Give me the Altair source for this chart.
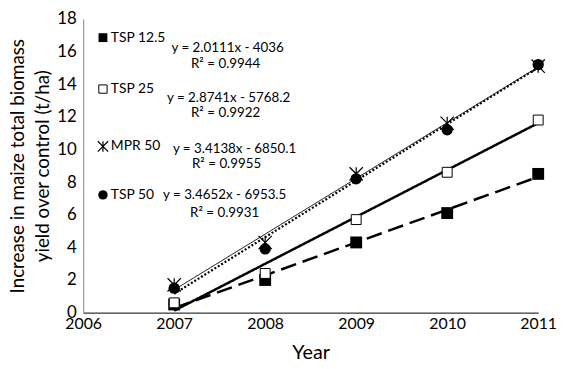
import altair as alt
import pandas as pd

# ---- data ----
years = [2007, 2008, 2009, 2010, 2011]
series = ["TSP 12.5", "TSP 25", "MPR 50", "TSP 50"]
tsp125 = [0.5, 2.0, 4.3, 6.1, 8.5]
tsp25 = [0.6, 2.4, 5.7, 8.6, 11.8]
mpr50 = [1.7, 4.3, 8.5, 11.6, 15.1]
tsp50 = [1.5, 3.9, 8.2, 11.2, 15.2]
slopes = [2.0111, 2.8741, 3.4138, 3.4652]
intercepts = [-4036, -5768.2, -6850.1, -6953.5]
eq_labels = ["y = 2.0111x - 4036", "y = 2.8741x - 5768.2",
             "y = 3.4138x - 6850.1", "y = 3.4652x - 6953.5"]
r2_labels = ["R² = 0.9944", "R² = 0.9922", "R² = 0.9955", "R² = 0.9931"]
x_ticks = [2006, 2007, 2008, 2009, 2010, 2011]
y_ticks = [0, 2, 4, 6, 8, 10, 12, 14, 16, 18]

values = [tsp125, tsp25, mpr50, tsp50]

FONT = "Lato"
W, H = 460, 297

xs = alt.Scale(domain=[2006, 2011], nice=False, zero=False)
ys = alt.Scale(domain=[0, 18], nice=False)

x_axis = alt.Axis(values=x_ticks, format="d", grid=False, ticks=False, domainColor="black",
                  labelFontSize=16, labelFont=FONT, labelColor="black", labelPadding=3,
                  title="Year", titleFont=FONT, titleFontSize=20, titleFontWeight="normal",
                  titleColor="black", titlePadding=11, labelFlush=False)
y_axis = alt.Axis(values=y_ticks, grid=False, ticks=False, domainColor="#888888",
                  labelFontSize=17, labelFont=FONT, labelColor="black", labelPadding=7,
                  title=["Increase in maize total biomass", "yield over control (t/ha)"],
                  titleFont=FONT, titleFontSize=19, titleFontWeight="normal",
                  titleColor="black", titlePadding=4, titleLineHeight=26)

# styles
dashes = [[16, 7], [1, 0], [1, 0], [2, 2]]
widths = [2.5, 2.5, 1.0, 2.2]
ASTER = "M-1,-1L1,1M1,-1L-1,1M0,-1L0,1"
marker_specs = [
    dict(shape="square", filled=True, color="black", size=144),
    dict(shape="square", filled=True, fill="white", stroke="black", strokeWidth=1, size=100),
    dict(shape=ASTER, filled=False, stroke="black", strokeWidth=1.2, size=180),
    dict(shape="circle", filled=True, color="black", size=130),
]
legend_marker_sizes = [80, 70, 110, 90]

# legend layout (pixels within plot area)
row_y = [19, 71, 129, 178]
eq_y = [30, 80, 132, 178]
r2_y = [46, 95, 147, 196]
eq_x = [146, 147, 153, 143]
r2_x = [144, 144, 145, 143]

layers = []
# trend lines
for i, name in enumerate(series):
    tdf = pd.DataFrame({"Year": [years[0], years[-1]],
                        "v": [slopes[i] * years[0] + intercepts[i],
                              slopes[i] * years[-1] + intercepts[i]]})
    line = alt.Chart(tdf).mark_line(color="black", strokeWidth=widths[i],
                                    strokeDash=dashes[i], clip=False).encode(
        x=alt.X("Year:Q", scale=xs, axis=x_axis),
        y=alt.Y("v:Q", scale=ys, axis=y_axis),
    )
    layers.append(line)

# points
for i, name in enumerate(series):
    pdf = pd.DataFrame({"Year": years, "v": values[i]})
    pts = alt.Chart(pdf).mark_point(opacity=1, **marker_specs[i]).encode(
        x=alt.X("Year:Q", scale=xs, axis=x_axis),
        y=alt.Y("v:Q", scale=ys, axis=y_axis),
    )
    layers.append(pts)

# legend / annotations
ldf = pd.DataFrame({"k": [0]})
for i, name in enumerate(series):
    spec = dict(marker_specs[i])
    spec["size"] = legend_marker_sizes[i]
    layers.append(alt.Chart(ldf).mark_point(opacity=1, **spec).encode(
        x=alt.value(20), y=alt.value(row_y[i])))
    layers.append(alt.Chart(ldf).mark_text(text=name, font=FONT, fontSize=14, align="left",
                                           baseline="middle", color="black").encode(
        x=alt.value(28), y=alt.value(row_y[i])))
    layers.append(alt.Chart(ldf).mark_text(text=eq_labels[i], font=FONT, fontSize=13.5,
                                           align="center", baseline="middle", color="black").encode(
        x=alt.value(eq_x[i]), y=alt.value(eq_y[i])))
    layers.append(alt.Chart(ldf).mark_text(text=r2_labels[i], font=FONT, fontSize=13.5,
                                           align="center", baseline="middle", color="black").encode(
        x=alt.value(r2_x[i]), y=alt.value(r2_y[i])))

chart = alt.layer(*layers).properties(
    width=W, height=H,
    autosize=alt.AutoSizeParams(type="none"),
    padding={"left": 76, "top": 9, "right": 18, "bottom": 53},
    background="white",
).configure_view(stroke=None)

chart.save("out.html", embed_options={"renderer": "svg", "actions": False})
